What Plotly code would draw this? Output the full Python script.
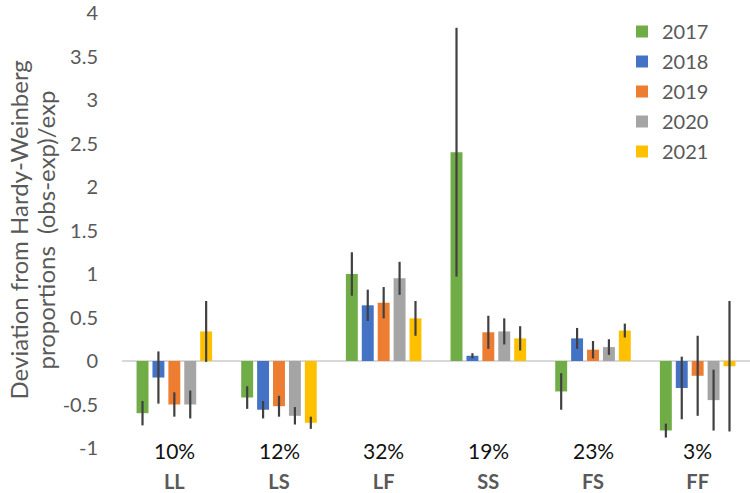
import plotly.graph_objects as go

categories = ["LL", "LS", "LF", "SS", "FS", "FF"]
pct_labels = ["10%", "12%", "32%", "19%", "23%", "3%"]
years = ["2017", "2018", "2019", "2020", "2021"]
y_tickvals = [-1, -0.5, 0, 0.5, 1, 1.5, 2, 2.5, 3, 3.5, 4]
y_ticktext = ["-1", "-0.5", "0", "0.5", "1", "1.5", "2", "2.5", "3", "3.5", "4"]
title_lines = ["Deviation from Hardy-Weinberg", "proportions  (obs-exp)/exp"]

v2017 = [-0.60, -0.42, 1.00, 2.40, -0.35, -0.80]
v2018 = [-0.19, -0.56, 0.64, 0.06, 0.26, -0.31]
v2019 = [-0.50, -0.52, 0.67, 0.33, 0.13, -0.17]
v2020 = [-0.50, -0.63, 0.95, 0.34, 0.16, -0.45]
v2021 = [0.34, -0.71, 0.49, 0.26, 0.35, -0.06]

e2017 = [0.14, 0.13, 0.25, 1.43, 0.21, 0.08]
e2018 = [0.30, 0.10, 0.18, 0.03, 0.12, 0.36]
e2019 = [0.14, 0.12, 0.18, 0.19, 0.10, 0.46]
e2020 = [0.16, 0.10, 0.19, 0.15, 0.09, 0.35]
e2021 = [0.35, 0.07, 0.20, 0.14, 0.08, 0.75]

colors = ["#70AD47", "#4472C4", "#ED7D31", "#A5A5A5", "#FFC000"]
values = [v2017, v2018, v2019, v2020, v2021]
errors = [e2017, e2018, e2019, e2020, e2021]

FONT = "Lato, 'Open Sans', sans-serif"

fig = go.Figure()
for yr, vals, errs, col in zip(years, values, errors, colors):
    fig.add_trace(go.Bar(
        x=categories, y=vals, name=yr, legendgroup=yr,
        marker=dict(color=col, line=dict(width=0)),
        error_y=dict(type="data", array=errs, visible=True,
                     color="#404040", thickness=2.2, width=0),
    ))

W, H = 750, 493
ml, mr, mt, mb = 122, 0, 13, 45
pw = W - ml - mr
ph = H - mt - mb

annotations = []
for c, p in zip(categories, pct_labels):
    annotations.append(dict(x=c, xref="x", y=0, yref="paper", text=p,
                            showarrow=False, yanchor="middle", yshift=-2,
                            font=dict(family=FONT, size=21, color="#111111")))
for line, px in zip(title_lines, [18, 45]):
    annotations.append(dict(
        x=(px - ml) / pw, xref="paper", y=0.5, yref="paper", text=line,
        textangle=-90, showarrow=False, xanchor="center", yanchor="middle",
        font=dict(family=FONT, size=24, color="#595959")))

fig.update_layout(
    width=W, height=H,
    margin=dict(l=ml, r=mr, t=mt, b=mb),
    paper_bgcolor="white", plot_bgcolor="white",
    barmode="group", bargap=0.24, bargroupgap=0.25,
    font=dict(family=FONT, color="#595959"),
    showlegend=True,
    legend=dict(x=(622 - ml) / pw, y=(448 - 12) / ph, xanchor="left", yanchor="top",
                font=dict(family=FONT, size=20, color="#595959"),
                tracegroupgap=1, bgcolor="rgba(0,0,0,0)"),
    annotations=annotations,
)
fig.update_xaxes(showgrid=False, showline=False, zeroline=False, ticks="",
                 tickfont=dict(family=FONT, size=20, color="#595959", weight="bold"),
                 ticklabelstandoff=20, automargin=False, ticklabeloverflow="allow")
fig.update_yaxes(range=[-1, 4], tickvals=y_tickvals, ticktext=y_ticktext,
                 showgrid=False, showline=False,
                 zeroline=True, zerolinecolor="#D9D9D9", zerolinewidth=2,
                 ticks="", tickfont=dict(family=FONT, size=20, color="#595959"),
                 ticklabelstandoff=23, automargin=False, ticklabeloverflow="allow")

fig.write_html("out.html", config={"displayModeBar": False},
               post_script="document.body.style.margin='0';")
